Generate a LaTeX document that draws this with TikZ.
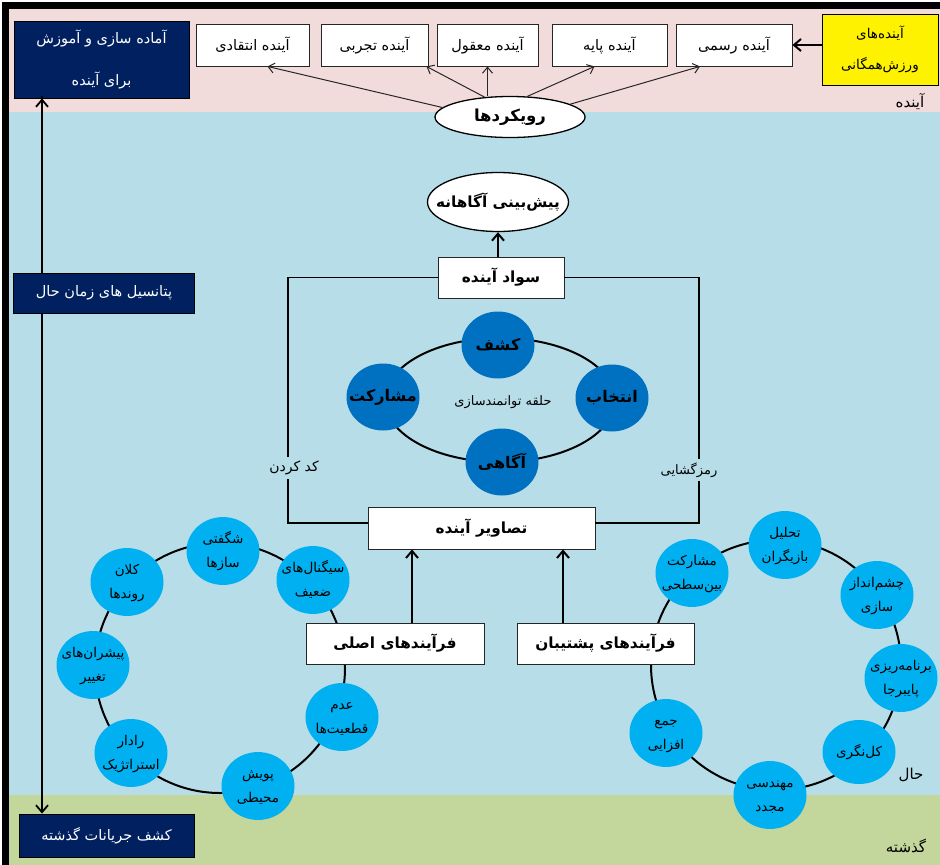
\documentclass[tikz,border=0pt]{standalone}
\usepackage{fontspec}
\setmainfont{DejaVu Sans}
\newfontfamily\arabicfont[Script=Arabic]{DejaVu Sans}
\TeXXeTstate=1
\usetikzlibrary{arrows.meta,shapes.geometric,calc}
\newcommand\fa[1]{{\arabicfont\beginR #1\endR}}
\newcommand\zw{^^^^200c}
\newcommand\one[1]{\makebox[0pt][c]{\fa{#1}}}
\newcommand\two[2]{\makebox[0pt][c]{\begin{tabular}{@{}c@{}}\fa{#1}\\\fa{#2}\end{tabular}}}
\definecolor{pinkbg}{RGB}{242,220,219}
\definecolor{bluebg}{RGB}{183,222,232}
\definecolor{greenbg}{RGB}{195,214,155}
\definecolor{navybox}{RGB}{0,32,96}
\definecolor{darkc}{RGB}{0,112,192}
\definecolor{lightc}{RGB}{0,176,240}
\tikzset{
  wbox/.style={draw=black!85, fill=white, line width=0.9pt, inner sep=0pt, minimum height=42pt, align=center},
  topbox/.style={wbox, font=\fontsize{14.5}{16}\selectfont},
  titlebox/.style={wbox, minimum height=41pt, font=\bfseries\fontsize{15.3}{17}\selectfont},
  navy/.style={draw=black, fill=navybox, line width=0.9pt, inner sep=0pt, text=white, align=center, font=\fontsize{14.5}{16}\selectfont},
  oval/.style={ellipse, draw=black, fill=white, line width=1.3pt, inner sep=0pt, font=\bfseries\fontsize{15.3}{17}\selectfont},
  darkcirc/.style={ellipse, fill=darkc, inner sep=0pt, minimum width=73pt, minimum height=67pt, font=\bfseries\fontsize{16}{18}\selectfont},
  lightcirc/.style={ellipse, fill=lightc, inner sep=0pt, minimum width=73pt, minimum height=64pt, font=\fontsize{13.5}{24}\selectfont},
  thin arrow/.style={-{Straight Barb[length=6pt,width=10pt]}, line width=1pt, draw=black!85},
  thick arrow/.style={-{Straight Barb[length=7pt,width=12pt]}, line width=2pt},
  thickline/.style={line width=1.8pt},
  ring/.style={line width=2pt},
  lbl/.style={inner sep=1pt, font=\fontsize{13}{15}\selectfont},
  bandlbl/.style={inner sep=1pt, font=\fontsize{15}{17}\selectfont}
}
\begin{document}
\begin{tikzpicture}[x=1pt,y=-1pt]
\useasboundingbox (0,0) rectangle (940,865);
% background bands
\fill[pinkbg] (9,9) rectangle (940,112);
\fill[bluebg] (9,112) rectangle (940,795);
\fill[greenbg] (9,795) rectangle (940,865);
\fill[black] (2,2) rectangle (940,9);
\fill[black] (2,2) rectangle (9,865);

% rings
\draw[ring] (500,400) ellipse[x radius=115, y radius=62];
\draw[ring] (220,668) circle[radius=125];
\draw[ring] (776,665) circle[radius=125];

% top row
\node[navy, minimum width=175pt, minimum height=77pt, font=\fontsize{14.5}{42}\selectfont] (prep) at (101.5,59.5) {\fa{آماده سازی و آموزش}\\\fa{برای آینده}};
\node[topbox, minimum width=113pt] (b1) at (252.5,45) {\fa{آینده انتقادی}};
\node[topbox, minimum width=107pt] (b2) at (374.5,45) {\fa{آینده تجربی}};
\node[topbox, minimum width=101pt] (b3) at (487.5,45) {\fa{آینده معقول}};
\node[topbox, minimum width=115pt] (b4) at (609.5,45) {\fa{آینده پایه}};
\node[topbox, minimum width=116pt] (b5) at (734,45) {\fa{آینده رسمی}};
\node[draw=black, fill=yellow, line width=1pt, inner sep=0pt, minimum width=116pt, minimum height=71pt, align=center, font=\fontsize{13.5}{31}\selectfont] (sport) at (880,49.5) {\fa{آینده\zw های}\\\fa{ورزش\zw همگانی}};
\node[bandlbl] (lfut) at (910,102) {\fa{آینده}};

\node[oval, minimum width=150pt, minimum height=41pt, font=\bfseries\fontsize{16.5}{18}\selectfont] (rk) at (510,117) {\one{رویکردها}};

\draw[thick arrow] (sport.west |- b5.east) -- (b5.east);
\draw[thin arrow] (rk.172) -- ([xshift=15pt]b1.south);
\draw[thin arrow] (rk.142) -- ([xshift=52pt]b2.south);
\draw[thin arrow] (rk.north -| b3.south) -- (b3.south);
\draw[thin arrow] (rk.50) -- ([xshift=-15pt]b4.south);
\draw[thin arrow] (rk.12) -- ([xshift=-34pt]b5.south);

% left timeline
\node[navy, minimum width=175pt, minimum height=43pt] (past) at (106.5,835.5) {\fa{کشف جریانات گذشته}};
\coordinate (ta) at ([xshift=-59.5pt]prep.south);
\coordinate (tb) at ([xshift=-64.5pt]past.north);
\draw[{Straight Barb[length=7pt,width=12pt]}-{Straight Barb[length=7pt,width=12pt]}, line width=1.8pt] (ta) -- (tb |- ta) -- (tb);
\node[navy, minimum width=181pt, minimum height=40pt] (pot) at (104,293) {\fa{پتانسیل های زمان حال}};

% centre
\node[oval, minimum width=141pt, minimum height=59pt] (pb) at (498,202) {\one{پیش\zw بینی آگاهانه}};
\node[titlebox, minimum width=126pt] (savad) at (501,277.5) {\fa{سواد آینده}};
\node[titlebox, minimum width=227pt, minimum height=42pt] (tas) at (481.5,528) {\fa{تصاویر آینده}};
\draw[thick arrow] (savad.north -| pb.south) -- (pb.south);

\coordinate (lb) at (288,523);
\coordinate (rb) at (699,523);
\draw[thickline] (savad.west) -| (lb) -- (lb -| tas.west);
\draw[thickline] (savad.east) -| (rb) -- (rb -| tas.east);
\node[lbl, fill=bluebg, inner sep=4pt, font=\fontsize{14}{16}\selectfont] (kod) at (294,468) {\fa{کد کردن}};
\node[lbl, fill=bluebg, inner sep=4pt] (ramz) at (689,470) {\fa{رمزگشایی}};

\node[darkcirc] (kashf) at (498,345) {\one{کشف}};
\node[darkcirc] (mosh) at (383,397) {\one{مشارکت}};
\node[darkcirc] (entekh) at (612,398) {\one{انتخاب}};
\node[darkcirc] (agahi) at (502,462) {\one{آگاهی}};
\node[lbl] (halghe) at (503,402) {\fa{حلقه توانمندسازی}};

% bottom process boxes
\node[titlebox, minimum width=178pt] (asli) at (395,643.5) {\fa{فرآیندهای اصلی}};
\node[titlebox, minimum width=177pt] (posht) at (605.5,643.5) {\fa{فرآیندهای پشتیبان}};
\draw[thick arrow] (asli.north -| 412,0) -- (tas.south -| 412,0);
\draw[thick arrow] (posht.north -| 563,0) -- (tas.south -| 563,0);

% left ring circles
\node[lightcirc] (c1) at (223,551) {\two{شگفتی}{سازها}};
\node[lightcirc] (c2) at (313,580) {\two{سیگنال\zw های}{ضعیف}};
\node[lightcirc] (c3) at (127,582) {\two{کلان}{روندها}};
\node[lightcirc] (c4) at (93,665) {\two{پیشران\zw های}{تغییر}};
\node[lightcirc] (c5) at (131,753) {\two{رادار}{استراتژیک}};
\node[lightcirc] (c6) at (258,786) {\two{پویش}{محیطی}};
\node[lightcirc] (c7) at (342,717) {\two{عدم}{قطعیت\zw ها}};

% right ring circles
\node[lightcirc] (d1) at (785,545) {\two{تحلیل}{بازیگران}};
\node[lightcirc] (d2) at (692,573) {\two{مشارکت}{بین\zw سطحی}};
\node[lightcirc] (d3) at (877,595) {\two{چشم\zw انداز}{سازی}};
\node[lightcirc] (d4) at (901,678) {\two{برنامه\zw ریزی}{پایبرجا}};
\node[lightcirc] (d5) at (859,752) {\one{کل\zw نگری}};
\node[lightcirc] (d6) at (770,795) {\two{مهندسی}{مجدد}};
\node[lightcirc] (d7) at (666,733) {\two{جمع}{افزایی}};

% band labels
\node[bandlbl] (lnow) at (911,775) {\fa{حال}};
\node[bandlbl] (lpast) at (906,846) {\fa{گذشته}};
\end{tikzpicture}
\end{document}
